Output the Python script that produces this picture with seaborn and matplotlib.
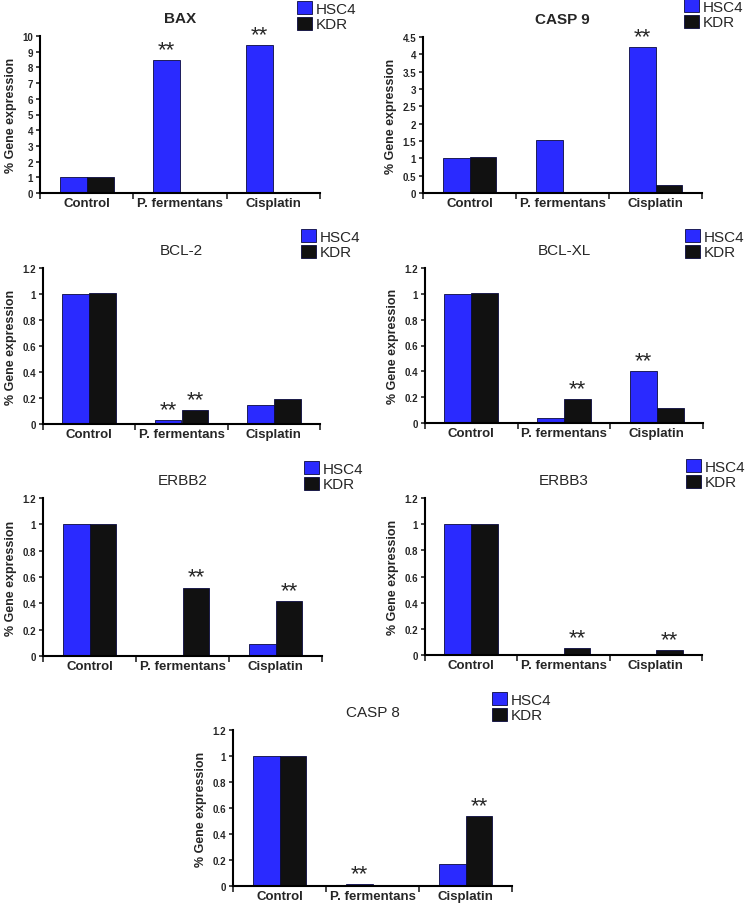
import matplotlib
matplotlib.use("Agg")
import matplotlib.pyplot as plt
import seaborn as sns
import pandas as pd
from matplotlib.ticker import FuncFormatter

genes = ["BAX", "CASP 9", "BCL-2", "BCL-XL", "ERBB2", "ERBB3", "CASP 8"]
categories = ["Control", "P. fermentans", "Cisplatin"]
lines = ["HSC4", "KDR"]

# values (fold of control)
hsc4 = {
    "BAX":    [1.0, 8.47, 9.43],
    "CASP 9": [1.0, 1.53, 4.21],
    "BCL-2":  [1.0, 0.033, 0.146],
    "BCL-XL": [1.0, 0.036, 0.405],
    "ERBB2":  [1.0, 0.0, 0.094],
    "ERBB3":  [1.0, 0.0, 0.0],
    "CASP 8": [1.0, 0.013, 0.166],
}
kdr = {
    "BAX":    [1.0, 0.0, 0.0],
    "CASP 9": [1.03, 0.0, 0.22],
    "BCL-2":  [1.005, 0.108, 0.19],
    "BCL-XL": [1.005, 0.186, 0.12],
    "ERBB2":  [1.0, 0.52, 0.417],
    "ERBB3":  [1.0, 0.054, 0.038],
    "CASP 8": [1.0, 0.0, 0.54],
}
# significance marks (**) per bar
stars_hsc4 = {
    "BAX": [0, 1, 1], "CASP 9": [0, 0, 1], "BCL-2": [0, 1, 0], "BCL-XL": [0, 0, 1],
    "ERBB2": [0, 0, 0], "ERBB3": [0, 0, 0], "CASP 8": [0, 1, 0],
}
stars_kdr = {
    "BAX": [0, 0, 0], "CASP 9": [0, 0, 0], "BCL-2": [0, 1, 0], "BCL-XL": [0, 1, 0],
    "ERBB2": [0, 1, 1], "ERBB3": [0, 1, 1], "CASP 8": [0, 0, 1],
}
y_max = {"BAX": 10, "CASP 9": 4.5}
y_step = {"BAX": 1, "CASP 9": 0.5}

# panel boxes in pixels: left, right, bottom, top ; legend anchor x, y
boxes = {
    "BAX":    (40, 320, 194, 37, 297, 2),
    "CASP 9": (423, 702, 194, 38, 684, 0),
    "BCL-2":  (43, 320, 425, 269, 301, 230),
    "BCL-XL": (425, 703, 424, 269, 685, 230),
    "ERBB2":  (43, 322, 657, 499, 304, 462),
    "ERBB3":  (425, 702, 656, 499, 686, 460),
    "CASP 8": (233, 512, 887, 731, 492, 693),
}
bold_titles = ["BAX", "CASP 9"]

W, H = 746, 904
sns.set_style("ticks")
plt.rcParams["font.family"] = ["Liberation Sans", "DejaVu Sans"]

fig = plt.figure(figsize=(W / 100, H / 100), dpi=100)
palette = {"HSC4": "#2a2aff", "KDR": "#111111"}

for gene in genes:
    l, r, b, t, lx, ly = boxes[gene]
    ax = fig.add_axes([l / W, 1 - b / H, (r - l) / W, (b - t) / H])
    df = pd.DataFrame({
        "Treatment": categories * 2,
        "Line": [lines[0]] * 3 + [lines[1]] * 3,
        "Value": hsc4[gene] + kdr[gene],
    })
    sns.barplot(data=df, x="Treatment", y="Value", hue="Line", hue_order=lines,
                palette=palette, width=0.58, saturation=1, errorbar=None,
                edgecolor="#0a0a40", linewidth=0.6, ax=ax)

    top = y_max.get(gene, 1.2)
    step = y_step.get(gene, 0.2)
    ax.set_ylim(0, top)
    n = int(round(top / step))
    ax.set_yticks([i * step for i in range(n + 1)])
    ax.yaxis.set_major_formatter(FuncFormatter(lambda v, p: f"{v:g}"))
    ax.set_xlim(-0.5, 2.5)
    ax.set_xticks(range(3))
    ax.set_xticklabels(categories, fontsize=9.5, fontweight="bold")
    ax.set_xticks([-0.5, 0.5, 1.5, 2.5], minor=True)
    ax.tick_params(axis="x", which="major", length=0, pad=3)
    ax.tick_params(axis="x", which="minor", length=4, width=1.2, direction="out")
    ax.tick_params(axis="y", length=3, width=1.2, labelsize=7, pad=2)
    for lab in ax.get_yticklabels():
        lab.set_fontweight("bold")
    ax.set_xlabel("")
    ax.set_ylabel("% Gene expression", fontsize=9, fontweight="bold", labelpad=4)
    for side in ["left", "bottom"]:
        ax.spines[side].set_linewidth(1.5)
        ax.spines[side].set_color("black")
    sns.despine(ax=ax)

    ax.set_title(gene, fontsize=11, pad=10,
                 fontweight="bold" if gene in bold_titles else "normal")

    for cont, flags in zip(ax.containers, [stars_hsc4[gene], stars_kdr[gene]]):
        for bar, f in zip(cont, flags):
            if f:
                ax.text(bar.get_x() + bar.get_width() / 2, bar.get_height(), "**",
                        ha="center", va="bottom", fontsize=16)

    sns.move_legend(ax, "upper left", bbox_to_anchor=(lx / W, 1 - ly / H),
                    bbox_transform=fig.transFigure, title=None, frameon=False,
                    fontsize=11, handlelength=1.0, handleheight=0.95,
                    handletextpad=0.2, labelspacing=0.05, borderpad=0,
                    borderaxespad=0)

fig.savefig("out.png", dpi=100)
